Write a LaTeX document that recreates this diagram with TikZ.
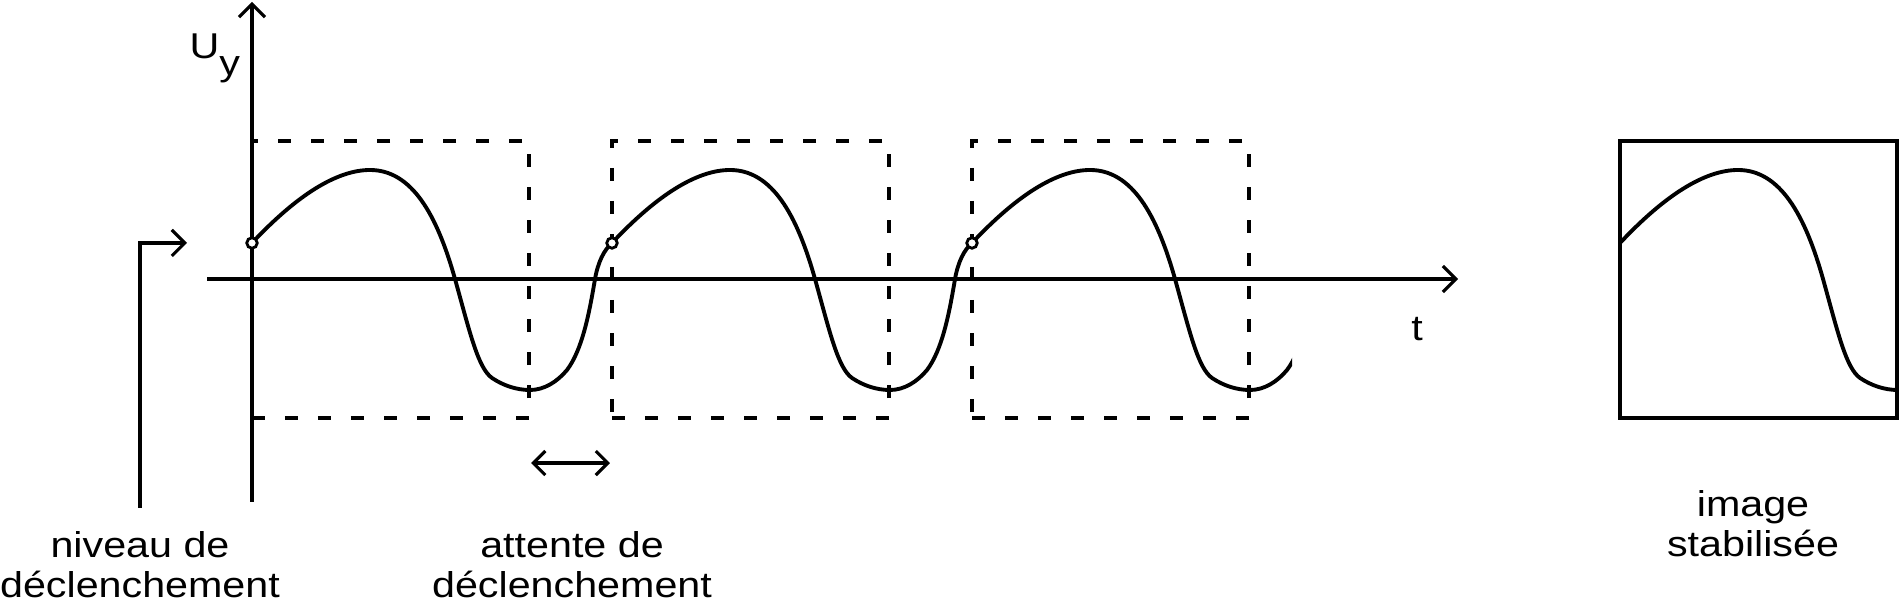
\documentclass[tikz,border=0pt]{standalone}
\usepackage{fontspec}
\setmainfont{Liberation Sans}[FakeStretch=1.15]
\usetikzlibrary{arrows.meta, calc}

\tikzset{
    periode/.pic={
        \draw[courbe] (0,243) .. controls (45,195) and (85,170) .. (118,170)
            .. controls (160,170) and (185,215) .. (203,279)
            .. controls (218,333) and (226,368) .. (240,378)
            .. controls (252,386) and (265,390) .. (278,390)
            .. controls (292,390) and (305,382) .. (315,370)
            .. controls (330,350) and (337,315) .. (343,279)
            .. controls (346,262) and (352,250) .. (360,243);
    }
}

\begin{document}
\begin{tikzpicture}[
    x=0.01cm, y=-0.01cm,
    every node/.style={font=\fontsize{10.2pt}{11.4pt}\selectfont, inner sep=0pt},
    axe/.style={-{Straight Barb[length=1.3mm, width=2.6mm]}, line width=0.9pt},
    fleche/.style={{Straight Barb[length=1.2mm, width=2.4mm]}-{Straight Barb[length=1.2mm, width=2.4mm]}, line width=0.9pt},
    cadre/.style={draw, rectangle, dash pattern=on 1.3mm off 2mm, line width=1.1pt, minimum width=2.77cm, minimum height=2.77cm},
    ecran/.style={draw, rectangle, line width=1.3pt, minimum width=2.77cm, minimum height=2.77cm},
    courbe/.style={line width=1.1pt},
    decl/.style={draw, circle, fill=white, line width=0.8pt, minimum size=1.05mm}
    ]

    \useasboundingbox (0,0) rectangle (1901,601);

    \node[cadre] (cadre1) at (390.5,279.5) {};
    \node[cadre] (cadre2) at (750.5,279.5) {};
    \node[cadre] (cadre3) at (1110.5,279.5) {};

    \coordinate (t_debut) at (207,279);
    \coordinate (t_fin) at (1458,279);
    \coordinate (u_bas) at (252,502);
    \coordinate (u_haut) at (252,2);
    \draw[axe] (t_debut) -- (t_fin);
    \draw[axe] (u_bas) -- (u_haut);

    \pic at (252,0) {periode};
    \pic at (612,0) {periode};
    \begin{scope}
        \clip (972,0) rectangle (1292,601);
        \pic at (972,0) {periode};
    \end{scope}

    \node[decl] (decl1) at (252,243) {};
    \node[decl] (decl2) at (612,243) {};
    \node[decl] (decl3) at (972,243) {};

    \node[anchor=base west] (lab_u) at (189,59) {U\raisebox{-4.6pt}{y}};
    \node[anchor=base] (lab_t) at (1417,341) {t};

    \coordinate (niv_pied) at (140,508);
    \coordinate (niv_fleche) at (187,243);
    \draw[axe] (niv_pied) |- (niv_fleche);
    \node[anchor=base, align=center] (niveau) at (140,598) {niveau de\\déclenchement};

    \draw[fleche] ($(cadre1.south east)+(0,43)$) -- ($(cadre2.south west)+(0,43)$);
    \node[anchor=base, align=center] (attente) at (572,598) {attente de\\déclenchement};

    \begin{scope}
        \clip (1620,141) rectangle (1897,418);
        \pic at (1620,0) {periode};
    \end{scope}
    \node[ecran] (ecran) at (1758.5,279.5) {};
    \node[anchor=base, align=center] (stab) at (1753,557) {image\\stabilisée};

\end{tikzpicture}
\end{document}
